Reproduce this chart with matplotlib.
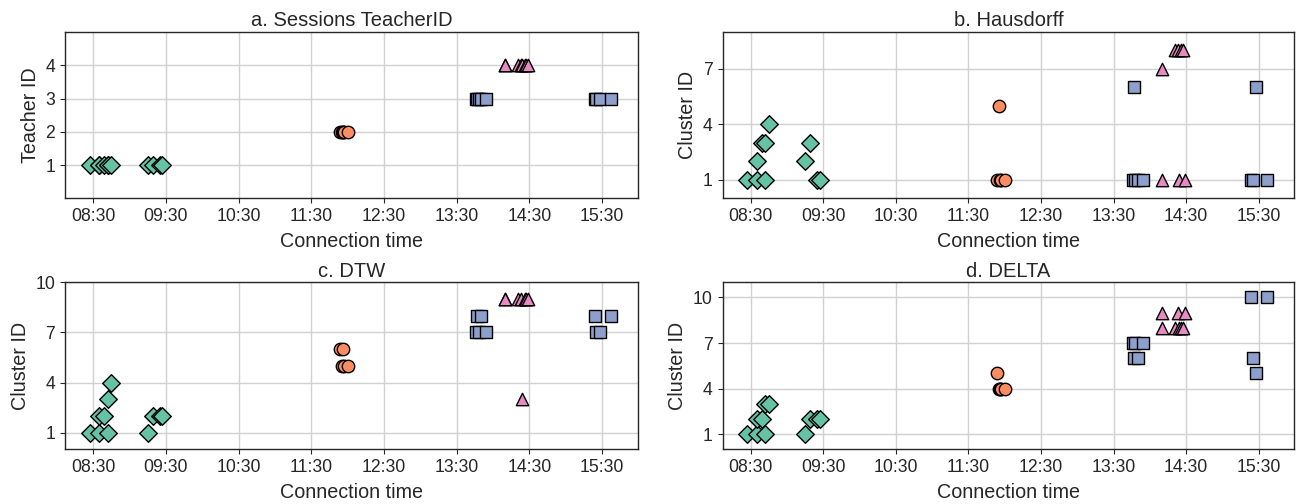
import matplotlib
matplotlib.use("Agg")
import matplotlib.pyplot as plt
from matplotlib.ticker import FixedLocator

# ---------------- data ----------------
# teacher 1 sessions
t1_times = ["08:27", "08:35", "08:35", "08:39", "08:42", "08:42", "08:45",
            "09:15", "09:19", "09:25", "09:27"]
t1_hausdorff = [1, 1, 2, 3, 1, 3, 4, 2, 3, 1, 1]
t1_dtw = [1, 1, 2, 2, 1, 3, 4, 1, 2, 2, 2]
t1_delta = [1, 1, 2, 2, 1, 3, 3, 1, 2, 2, 2]

# teacher 2 sessions
t2_times = ["11:54", "11:55", "11:56", "11:57", "12:00"]
t2_hausdorff = [1, 5, 1, 1, 1]
t2_dtw = [6, 5, 6, 5, 5]
t2_delta = [5, 4, 4, 4, 4]

# teacher 3 sessions
t3_times = ["13:46", "13:47", "13:48", "13:50", "13:54",
            "15:24", "15:25", "15:28", "15:37"]
t3_hausdorff = [1, 6, 1, 1, 1, 1, 1, 6, 1]
t3_dtw = [7, 8, 7, 8, 7, 8, 7, 7, 8]
t3_delta = [7, 6, 7, 6, 7, 10, 6, 5, 10]

# teacher 4 sessions
t4_times = ["14:10", "14:10", "14:21", "14:23", "14:24", "14:26", "14:27", "14:29"]
t4_hausdorff = [7, 1, 8, 8, 1, 8, 8, 1]
t4_dtw = [9, 9, 9, 9, 3, 9, 9, 9]
t4_delta = [9, 8, 8, 9, 8, 8, 8, 9]

teacher_ids = [1, 2, 3, 4]
panel_titles = ["a. Sessions TeacherID", "b. Hausdorff", "c. DTW", "d. DELTA"]
y_labels = ["Teacher ID", "Cluster ID", "Cluster ID", "Cluster ID"]
x_label = "Connection time"
x_tick_labels = ["08:30", "09:30", "10:30", "11:30", "12:30", "13:30", "14:30", "15:30"]
y_ticks_a = [1, 2, 3, 4]
y_ticks_clusters = [1, 4, 7, 10]

colors = ["#66c2a5", "#fc8d62", "#8da0cb", "#e78ac3"]
markers = ["D", "o", "s", "^"]


def to_min(s):
    h, m = s.split(":")
    return int(h) * 60 + int(m)


times = [t1_times, t2_times, t3_times, t4_times]
panel_values = [
    [[teacher_ids[i]] * len(times[i]) for i in range(4)],
    [t1_hausdorff, t2_hausdorff, t3_hausdorff, t4_hausdorff],
    [t1_dtw, t2_dtw, t3_dtw, t4_dtw],
    [t1_delta, t2_delta, t3_delta, t4_delta],
]

# ---------------- style ----------------
plt.rcParams.update({
    "font.family": ["Liberation Sans", "DejaVu Sans"],
    "text.color": "0.15",
    "axes.labelcolor": "0.15",
    "xtick.color": "0.15",
    "ytick.color": "0.15",
    "axes.edgecolor": "0.15",
    "axes.linewidth": 1.0,
    "xtick.major.size": 3.8,
    "ytick.major.size": 3.8,
    "xtick.labelsize": 12.7,
    "ytick.labelsize": 12.7,
    "axes.labelsize": 14.2,
    "axes.titlesize": 14.5,
})

W, H = 1304, 504
fig = plt.figure(figsize=(W / 100, H / 100), dpi=100)

# axes boxes in pixels: (left, top, right, bottom)
boxes = [(65.3, 32, 637.7, 198.3), (722.7, 32, 1294.3, 198.3),
         (65.3, 282.3, 637.7, 449.3), (722.7, 282.3, 1294.3, 449.3)]

xlim = (486.9, 959.4)
xticks = [to_min(s) for s in x_tick_labels]

for k in range(4):
    l, t, r, b = boxes[k]
    ax = fig.add_axes([l / W, 1 - b / H, (r - l) / W, (b - t) / H])
    ax.set_axisbelow(True)
    ax.grid(True, color="0.82", linewidth=1.0)
    ymax = 0
    for i in range(4):
        xs = [to_min(s) for s in times[i]]
        ys = panel_values[k][i]
        ymax = max(ymax, max(ys))
        ax.scatter(xs, ys, s=80, marker=markers[i], c=colors[i],
                   edgecolors="black", linewidths=1.0, zorder=3)
    ax.set_xlim(*xlim)
    ax.set_ylim(0, ymax + 1)
    ax.xaxis.set_major_locator(FixedLocator(xticks))
    ax.set_xticklabels(x_tick_labels)
    if k == 0:
        ax.set_yticks(y_ticks_a)
    else:
        ax.set_yticks([v for v in y_ticks_clusters if v <= ymax + 1])
    ax.set_title(panel_titles[k], pad=4)
    ax.set_xlabel(x_label, labelpad=5)
    ax.set_ylabel(y_labels[k], labelpad=4)

fig.savefig("out.png", dpi=100)
